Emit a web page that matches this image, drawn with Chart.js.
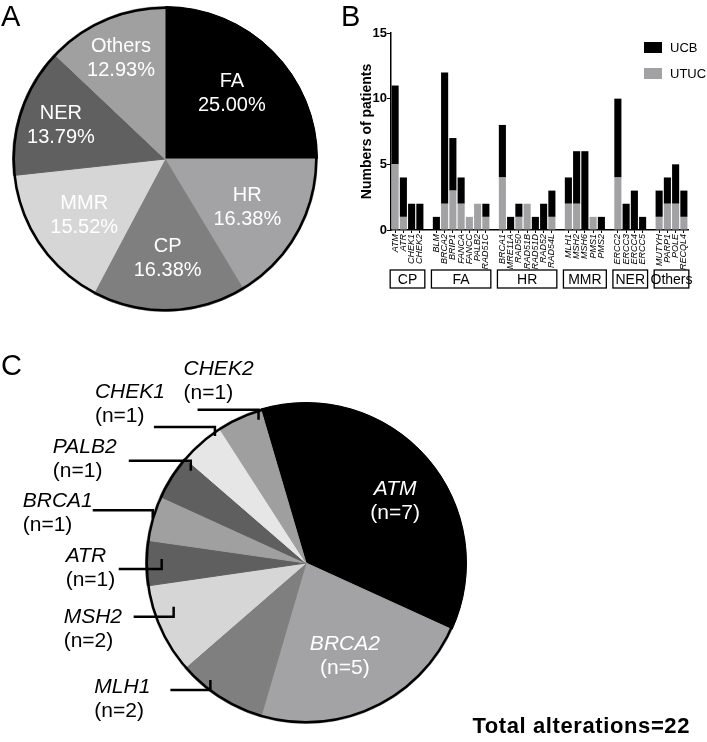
<!DOCTYPE html>
<html>
<head>
<meta charset="utf-8">
<title>DNA repair gene alterations</title>
<script src="https://cdn.jsdelivr.net/npm/chart.js@4.4.1/dist/chart.umd.min.js"></script>
<style>
    body { margin: 0; background: #fff; font-family: 'Liberation Sans', Arial, Helvetica, sans-serif; }
    #wrap { position: relative; width: 707px; height: 742px; overflow: hidden; }
    #wrap canvas { position: absolute; }
    .tag { position: absolute; font-size: 29px; line-height: 1; color: #000; }
    #total { position: absolute; right: 17px; top: 715px; font-size: 22px; font-weight: bold; letter-spacing: 0.6px; line-height: 1; color: #000; }
</style>
</head>
<body>
<div id="wrap">
    <canvas id="pie-pathway" width="340" height="330" style="left:0;top:0"></canvas>
    <canvas id="bar-genes" width="347" height="330" style="left:360px;top:0"></canvas>
    <canvas id="pie-alterations" width="707" height="412" style="left:0;top:330px"></canvas>
    <div class="tag" style="left:1px;top:2px">A</div>
    <div class="tag" style="left:341px;top:2px">B</div>
    <div class="tag" style="left:1px;top:351px">C</div>
    <div id="total">Total alterations=22</div>
</div>
<script>
const FONT = "'Liberation Sans', Arial, Helvetica, sans-serif";

// Panel A: share of alterations by pathway
const pathwayLabels = ['FA', 'HR', 'CP', 'MMR', 'NER', 'Others'];
const pathwayCounts = [29, 19, 19, 18, 16, 15];
const pathwayPercent = ['25.00%', '16.38%', '16.38%', '15.52%', '13.79%', '12.93%'];

// Panel B: patients per gene (empty strings are the gaps between groups)
const geneLabels = [
    'ATM', 'ATR', 'CHEK1', 'CHEK2', '',
    'BLM', 'BRCA2', 'BRIP1', 'FANCA', 'FANCC', 'PALB2', 'RAD51C', '',
    'BRCA1', 'MRE11A', 'RAD50', 'RAD51B', 'RAD51D', 'RAD52', 'RAD54L', '',
    'MLH1', 'MSH2', 'MSH6', 'PMS1', 'PMS2', '',
    'ERCC2', 'ERCC3', 'ERCC4', 'ERCC5', '',
    'MUTYH', 'PARP1', 'POLE', 'RECQL4'
];
const ucbCounts = [
    6, 3, 2, 2, null,
    1, 10, 4, 2, 0, 0, 1, null,
    4, 1, 1, 0, 1, 2, 2, null,
    2, 4, 6, 0, 1, null,
    6, 2, 3, 1, null,
    2, 2, 3, 2
];
const utucCounts = [
    5, 1, 0, 0, null,
    0, 2, 3, 2, 1, 2, 1, null,
    4, 0, 1, 2, 0, 0, 1, null,
    2, 2, 0, 1, 0, null,
    4, 0, 0, 0, null,
    1, 2, 2, 1
];
const yTicks = [0, 5, 10, 15];
const groupNames = ['CP', 'FA', 'HR', 'MMR', 'NER', 'Others'];
const groupSpans = [['ATM', 'CHEK2'], ['BLM', 'RAD51C'], ['BRCA1', 'RAD54L'], ['MLH1', 'PMS2'], ['ERCC2', 'ERCC5'], ['MUTYH', 'RECQL4']];

// Panel C: individual alterations
const alterationGenes = ['ATM', 'BRCA2', 'MLH1', 'MSH2', 'ATR', 'BRCA1', 'PALB2', 'CHEK1', 'CHEK2'];
const alterationCounts = [7, 5, 2, 2, 1, 1, 1, 1, 1];   // n printed on the figure
const sliceSizes = [8, 5, 2, 2, 1, 1, 1, 1, 1];         // slice widths as drawn (out of 22)

// colours
const pathwayColors = ['#000000', '#a3a3a5', '#7f7f7f', '#d6d6d6', '#606060', '#a0a0a0'];
const alterationColors = ['#000000', '#a3a3a5', '#7f7f7f', '#d6d6d6', '#5f5f5f', '#a0a0a0', '#5f5f5f', '#e6e6e6', '#9f9f9f'];
const UCB_COLOR = '#000000';
const UTUC_COLOR = '#a2a2a4';

// label placement for panel C (relative to the pie centre / radius)
const calloutLayout = {
    CHEK2: { ang: -17.2, k: 1.00, len: 61, tick: 10, dx: -14, dy: -35 },
    CHEK1: { ang: -33.8, k: 1.02, len: 61, tick: 9, dx: -59, dy: -29 },
    PALB2: { ang: -48.4, k: 0.96, len: 62, tick: 10, dx: -76, dy: -8 },
    BRCA1: { ang: -71, k: 1.01, len: 60, tick: 8, dx: -70, dy: -3 },
    ATR: { ang: -92.4, k: 0.90, len: 43, tick: -10, dx: -53, dy: -7 },
    MSH2: { ang: -112.1, k: 0.89, len: 40, tick: -10, dx: -70, dy: 6 },
    MLH1: { ang: -143, k: 0.99, len: 40, tick: -10, dx: -76, dy: 3 }
};
const insideLayout = {
    ATM: { ang: 54.7, k: 0.68 },
    BRCA2: { ang: 157, k: 0.62 }
};

// black ring round a pie
const pieOutline = {
    id: 'pieOutline',
    afterDatasetsDraw(chart, args, opts) {
        const arc = chart.getDatasetMeta(0).data[0];
        if (!arc) return;
        const ctx = chart.ctx;
        ctx.save();
        ctx.beginPath();
        ctx.arc(arc.x, arc.y, arc.outerRadius - opts.width / 2, 0, Math.PI * 2);
        ctx.lineWidth = opts.width;
        ctx.strokeStyle = '#000';
        ctx.stroke();
        ctx.restore();
    }
};

// two-line white text inside each slice of panel A
const sliceText = {
    id: 'sliceText',
    afterDatasetsDraw(chart, args, opts) {
        const ctx = chart.ctx;
        ctx.save();
        ctx.fillStyle = '#fff';
        ctx.textAlign = 'center';
        ctx.font = '20px ' + FONT;
        chart.getDatasetMeta(0).data.forEach((arc, i) => {
            const mid = (arc.startAngle + arc.endAngle) / 2;
            const r = arc.outerRadius * opts.radius[i];
            const x = arc.x + Math.cos(mid) * r;
            const y = arc.y + Math.sin(mid) * r;
            ctx.fillText(chart.data.labels[i], x, y - 5);
            ctx.fillText(pathwayPercent[i], x, y + 19);
        });
        ctx.restore();
    }
};

// legend in the top right corner of panel B
const stackLegend = {
    id: 'stackLegend',
    afterDraw(chart, args, opts) {
        const { ctx, chartArea } = chart;
        ctx.save();
        ctx.font = '13px ' + FONT;
        ctx.textBaseline = 'middle';
        ['UCB', 'UTUC'].forEach((name, row) => {
            const ds = chart.data.datasets.find(d => d.label === name);
            const x = chartArea.right - opts.right;
            const y = chartArea.top + opts.top + row * opts.rowGap;
            ctx.fillStyle = ds.backgroundColor;
            ctx.fillRect(x, y, 18, 11);
            ctx.fillStyle = '#000';
            ctx.fillText(name, x + 26, y + 6);
        });
        ctx.restore();
    }
};

// pathway boxes under the gene names
const groupBoxes = {
    id: 'groupBoxes',
    afterDraw(chart, args, opts) {
        const { ctx, chartArea } = chart;
        const xs = chart.scales.x;
        const pitch = xs.getPixelForValue(1) - xs.getPixelForValue(0);
        ctx.save();
        ctx.lineWidth = 1.3;
        ctx.strokeStyle = '#000';
        ctx.fillStyle = '#000';
        ctx.font = '14px ' + FONT;
        ctx.textAlign = 'center';
        ctx.textBaseline = 'middle';
        groupSpans.forEach((span, i) => {
            const x1 = xs.getPixelForValue(geneLabels.indexOf(span[0])) - pitch * 0.6;
            const x2 = xs.getPixelForValue(geneLabels.indexOf(span[1])) + pitch * 0.6;
            const y = chartArea.bottom + opts.top;
            ctx.strokeRect(x1, y, x2 - x1, opts.height);
            ctx.fillText(groupNames[i], (x1 + x2) / 2, y + opts.height / 2 + 1);
        });
        ctx.restore();
    }
};

// leader lines and labels of panel C
const callouts = {
    id: 'callouts',
    afterDatasetsDraw(chart) {
        const ctx = chart.ctx;
        const arcs = chart.getDatasetMeta(0).data;
        const cx = arcs[0].x, cy = arcs[0].y, R = arcs[0].outerRadius;
        ctx.save();
        alterationGenes.forEach((gene, i) => {
            const nText = '(n=' + alterationCounts[i] + ')';
            const out = calloutLayout[gene];
            if (out) {
                const a = out.ang * Math.PI / 180;
                const ex = cx + R * out.k * Math.sin(a);
                const ey = cy - R * out.k * Math.cos(a);
                ctx.beginPath();
                ctx.moveTo(ex - out.len, ey);
                ctx.lineTo(ex, ey);
                ctx.lineTo(ex, ey + out.tick);
                ctx.lineWidth = 2.5;
                ctx.strokeStyle = '#000';
                ctx.stroke();
                ctx.fillStyle = '#000';
                ctx.textAlign = 'left';
                ctx.font = 'italic 21px ' + FONT;
                ctx.fillText(gene, ex - out.len + out.dx, ey + out.dy);
                ctx.font = '21px ' + FONT;
                ctx.fillText(nText, ex - out.len + out.dx, ey + out.dy + 24);
            }
            const inn = insideLayout[gene];
            if (inn) {
                const a = inn.ang * Math.PI / 180;
                const x = cx + R * inn.k * Math.sin(a);
                const y = cy - R * inn.k * Math.cos(a);
                ctx.fillStyle = '#fff';
                ctx.textAlign = 'center';
                ctx.font = 'italic 21px ' + FONT;
                ctx.fillText(gene, x, y - 5);
                ctx.font = '21px ' + FONT;
                ctx.fillText(nText, x, y + 19);
            }
        });
        ctx.restore();
    }
};

// Panel A
new Chart(document.getElementById('pie-pathway'), {
    type: 'pie',
    data: {
        labels: pathwayLabels,
        datasets: [{
            data: pathwayCounts,
            backgroundColor: pathwayColors,
            borderColor: pathwayColors,
            borderWidth: 1
        }]
    },
    options: {
        responsive: false,
        animation: false,
        layout: { padding: { left: 12, top: 6, right: 22, bottom: 18 } },
        plugins: {
            legend: { display: false },
            tooltip: { enabled: false },
            pieOutline: { width: 2.5 },
            sliceText: { radius: [0.62, 0.62, 0.64, 0.64, 0.72, 0.73] }
        }
    },
    plugins: [pieOutline, sliceText]
});

// Panel B
new Chart(document.getElementById('bar-genes'), {
    type: 'bar',
    data: {
        labels: geneLabels,
        datasets: [{
            label: 'UTUC',
            data: utucCounts,
            backgroundColor: UTUC_COLOR,
            barPercentage: 0.86,
            categoryPercentage: 1
        }, {
            label: 'UCB',
            data: ucbCounts,
            backgroundColor: UCB_COLOR,
            barPercentage: 0.86,
            categoryPercentage: 1
        }]
    },
    options: {
        responsive: false,
        animation: false,
        layout: { padding: { left: 0, top: 33, right: 19, bottom: 55 } },
        plugins: {
            legend: { display: false },
            tooltip: { enabled: false },
            stackLegend: { right: 44, top: 9, rowGap: 26 },
            groupBoxes: { top: 40, height: 18 }
        },
        scales: {
            x: {
                stacked: true,
                border: { display: true, color: '#000', width: 1.5 },
                grid: {
                    offset: false,
                    drawOnChartArea: false,
                    tickLength: 3,
                    color: c => (geneLabels[c.index] ? '#000' : 'rgba(0,0,0,0)')
                },
                ticks: {
                    autoSkip: false,
                    minRotation: 90,
                    maxRotation: 90,
                    padding: 1,
                    color: '#000',
                    font: { family: FONT, size: 9, style: 'italic' }
                },
                afterFit(scale) { scale.height = 45; }
            },
            y: {
                stacked: true,
                min: 0,
                max: 15,
                border: { display: true, color: '#000', width: 1.5 },
                grid: { drawOnChartArea: false, tickLength: 4, color: '#000' },
                afterBuildTicks(scale) { scale.ticks = yTicks.map(v => ({ value: v })); },
                ticks: {
                    padding: 0,
                    color: '#000',
                    font: { family: FONT, size: 13, weight: 'bold' }
                },
                title: {
                    display: true,
                    text: 'Numbers of patients',
                    color: '#000',
                    padding: { top: 0, bottom: 0 },
                    font: { family: FONT, size: 14, weight: 'bold', lineHeight: 1 }
                },
                afterFit(scale) { scale.width = 31; }
            }
        }
    },
    plugins: [stackLegend, groupBoxes]
});

// Panel C
new Chart(document.getElementById('pie-alterations'), {
    type: 'pie',
    data: {
        labels: alterationGenes,
        datasets: [{
            data: sliceSizes,
            backgroundColor: alterationColors,
            borderColor: alterationColors,
            borderWidth: 1
        }]
    },
    options: {
        responsive: false,
        animation: false,
        rotation: -16.4,
        layout: { padding: { left: 145, top: 72, right: 240, bottom: 18 } },
        plugins: {
            legend: { display: false },
            tooltip: { enabled: false },
            pieOutline: { width: 2.5 }
        }
    },
    plugins: [pieOutline, callouts]
});
</script>
</body>
</html>
